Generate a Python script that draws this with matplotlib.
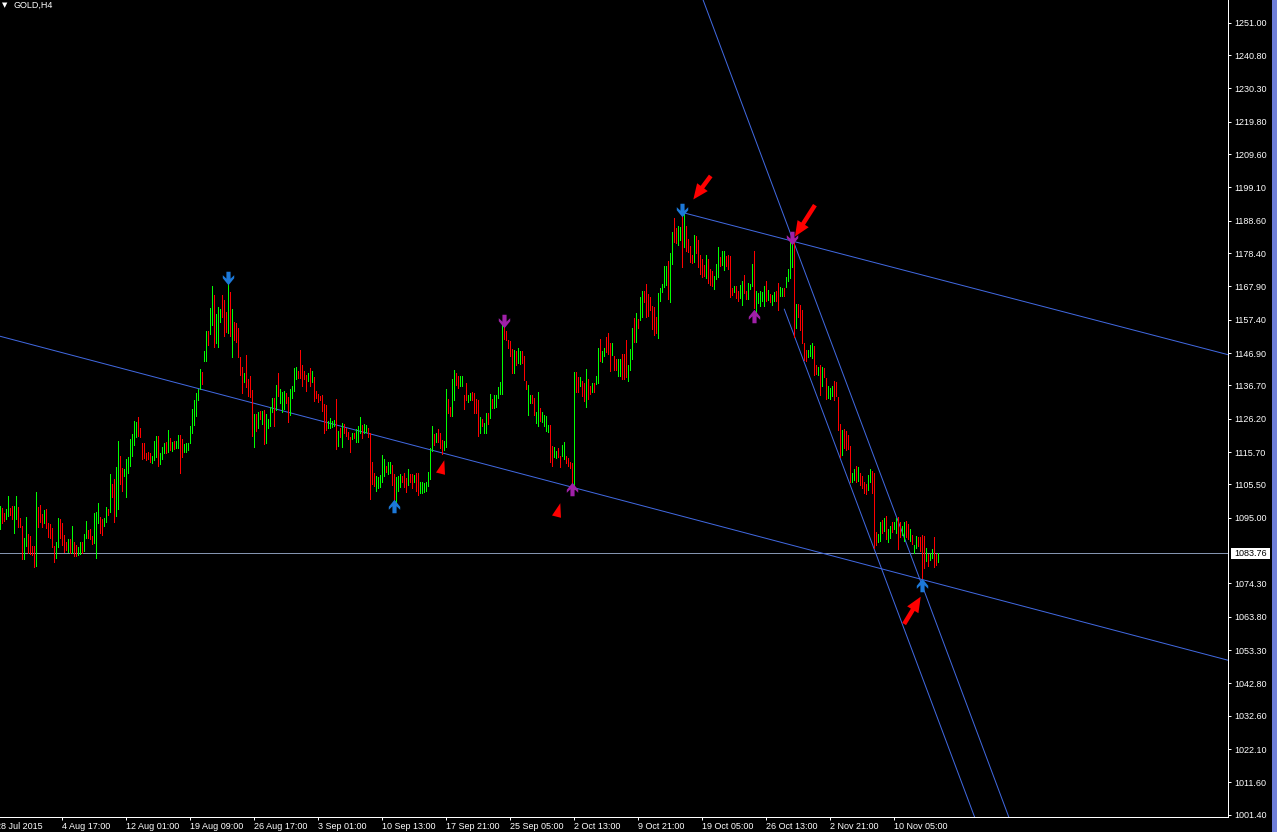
import numpy as np
import matplotlib
matplotlib.use("Agg")
import matplotlib.pyplot as plt
from matplotlib.path import Path
from matplotlib.patches import FancyArrowPatch, Rectangle, ArrowStyle
import matplotlib.transforms as mtransforms

plt.rcParams['font.family'] = ['Liberation Sans', 'DejaVu Sans']

# ---------------- data ----------------
symbol_title = "GOLD,H4"

highs = [
    1098.7, 1098.0, 1096.4, 1097.7, 1101.9, 1098.0, 1098.7, 1098.7, 1101.9, 1098.3,
    1095.0, 1092.5, 1088.7, 1095.1, 1089.9, 1089.2, 1086.1, 1086.1, 1103.0, 1098.5,
    1099.0, 1096.2, 1097.4, 1097.7, 1093.2, 1093.0, 1091.7, 1086.1, 1087.2, 1095.0,
    1094.5, 1093.2, 1089.6, 1087.5, 1088.2, 1088.2, 1092.4, 1087.2, 1086.4, 1085.7,
    1087.2, 1087.2, 1089.9, 1094.1, 1091.2, 1091.4, 1089.3, 1096.6, 1096.9, 1099.5,
    1095.1, 1094.5, 1094.8, 1098.3, 1097.7, 1108.8, 1105.6, 1107.2, 1110.9, 1119.3,
    1114.5, 1110.6, 1110.3, 1113.4, 1114.0, 1119.7, 1121.4, 1125.6, 1125.3, 1126.6,
    1123.2, 1118.7, 1118.4, 1115.5, 1115.8, 1115.5, 1114.5, 1119.3, 1120.8, 1120.8,
    1115.5, 1117.2, 1118.4, 1119.0, 1122.6, 1120.0, 1119.0, 1119.3, 1119.3, 1121.1,
    1121.1, 1119.7, 1118.2, 1118.4, 1118.4, 1123.9, 1129.2, 1132.1, 1134.4, 1135.5,
    1141.8, 1141.0, 1147.6, 1153.9, 1153.9, 1161.0, 1168.0, 1165.2, 1159.2, 1161.3,
    1160.7, 1165.2, 1163.6, 1159.9, 1169.9, 1166.2, 1160.7, 1156.8, 1156.5, 1154.7,
    1145.5, 1142.6, 1140.7, 1146.3, 1138.6, 1139.7, 1135.2, 1127.7, 1127.7, 1128.4,
    1128.7, 1128.7, 1128.9, 1127.7, 1126.0, 1129.8, 1132.6, 1132.8, 1136.8, 1140.7,
    1135.5, 1134.7, 1135.0, 1134.4, 1132.9, 1135.5, 1136.5, 1142.1, 1142.4, 1141.3,
    1147.9, 1143.1, 1141.2, 1140.0, 1140.5, 1142.1, 1141.3, 1139.4, 1135.0, 1134.0,
    1133.4, 1133.7, 1130.8, 1130.5, 1125.6,
    1126.3, 1125.6, 1125.8, 1132.3, 1122.4, 1123.2, 1124.8, 1124.5, 1123.2, 1122.1,
    1120.5, 1121.8, 1121.8, 1122.9, 1123.9, 1126.6, 1124.2, 1124.5, 1124.2, 1123.2,
    1121.8, 1112.4, 1109.0, 1108.2, 1107.9, 1108.5, 1114.8, 1113.4, 1111.3, 1112.4,
    1112.7, 1111.6, 1108.8, 1107.7, 1108.2, 1108.8, 1108.2, 1109.0, 1107.4, 1110.3,
    1108.8, 1108.8, 1108.5, 1109.0, 1109.0, 1106.1, 1106.4, 1105.9, 1106.1, 1109.5,
    1116.9, 1123.9, 1121.4, 1121.8, 1122.9, 1121.8, 1119.5, 1119.3, 1135.5, 1132.3,
    1130.0, 1138.6, 1141.5, 1140.7, 1139.7, 1139.7, 1139.5, 1133.7, 1137.6, 1133.7,
    1134.4, 1134.7, 1134.4, 1132.3, 1132.1, 1126.6, 1126.0, 1125.0, 1128.1, 1127.9,
    1134.0, 1132.3, 1133.7, 1133.7, 1136.1, 1137.9, 1156.5, 1155.0, 1153.9, 1151.0,
    1150.8, 1148.1, 1147.9, 1147.6, 1148.4, 1147.6, 1147.6, 1146.0, 1138.2, 1136.8,
    1133.7, 1133.7, 1132.6, 1128.4, 1134.7, 1129.5, 1128.4, 1127.4, 1127.1, 1124.2,
    1124.2, 1117.6, 1117.4, 1116.1, 1116.9, 1114.3, 1117.9, 1119.0, 1114.5, 1113.7,
    1112.4, 1112.2, 1141.0, 1141.0, 1139.2, 1139.2, 1138.2, 1137.4, 1141.8, 1138.6,
    1136.5, 1137.4, 1137.4, 1139.5, 1148.4, 1151.2, 1147.6, 1148.4, 1151.8, 1153.3,
    1150.2, 1150.2, 1146.0, 1144.9, 1144.9, 1144.9, 1146.6, 1146.6, 1151.0, 1143.1,
    1148.1, 1154.7, 1157.8, 1159.4, 1157.5,
    1164.7, 1166.3, 1166.5, 1168.7, 1165.5, 1164.5, 1161.8, 1161.3, 1158.4, 1165.7,
    1167.3, 1168.7, 1174.4, 1174.2, 1176.0, 1178.4, 1184.9, 1189.4, 1186.2, 1187.0,
    1186.5, 1191.5, 1190.9, 1187.0, 1182.8, 1180.7, 1177.8, 1184.1, 1183.8, 1182.5,
    1177.8, 1176.5, 1174.7, 1177.8, 1176.5, 1173.3, 1172.9, 1171.2, 1175.0, 1180.2,
    1177.1, 1178.9, 1178.9, 1177.5, 1177.8, 1177.5, 1167.3, 1168.1, 1167.9, 1166.6,
    1168.4, 1169.7, 1171.5, 1166.6, 1168.9, 1168.7, 1175.0, 1179.2, 1166.3, 1165.7,
    1166.6, 1166.0, 1168.1, 1169.7, 1166.8, 1165.5, 1165.2, 1166.0, 1166.6, 1168.9,
    1167.6, 1167.3, 1167.3, 1170.8, 1173.3, 1182.5, 1182.0, 1183.1, 1162.4, 1162.4,
    1162.1, 1160.5, 1150.0, 1147.9, 1147.9, 1149.5, 1150.0, 1149.2, 1143.2, 1142.4,
    1143.2, 1142.4, 1142.1, 1138.9, 1136.6, 1135.8, 1136.4, 1138.2, 1137.9,
    1132.9, 1124.5, 1122.7, 1122.9, 1122.4, 1121.1, 1117.6, 1109.0, 1110.3, 1111.3,
    1111.1, 1109.0, 1108.2, 1106.4, 1105.6, 1108.5, 1110.3, 1109.8, 1109.2, 1090.6,
    1089.9, 1093.5, 1094.3, 1094.8, 1095.4, 1091.4, 1092.4, 1093.8, 1093.5, 1094.8,
    1095.1, 1093.8, 1092.4, 1093.5, 1094.1, 1093.0, 1091.4, 1089.6, 1086.4, 1089.1,
    1088.8, 1088.8, 1089.6, 1089.3, 1085.4, 1083.6, 1084.0, 1085.1, 1088.8, 1083.6,
    1083.8,
]

lows = [
    1091.4, 1093.2, 1094.1, 1094.5, 1095.6, 1095.9, 1094.5, 1090.1, 1094.5, 1092.0,
    1092.0, 1082.0, 1082.0, 1086.1, 1083.8, 1083.6, 1083.3, 1079.6, 1079.9, 1092.2,
    1093.8, 1092.2, 1093.2, 1091.7, 1089.0, 1088.5, 1085.7, 1080.9, 1082.4, 1085.9,
    1088.5, 1086.4, 1084.3, 1084.9, 1084.3, 1084.0, 1084.0, 1082.8, 1083.0, 1083.3,
    1083.6, 1083.8, 1084.6, 1088.5, 1088.5, 1088.2, 1086.7, 1086.9, 1082.4, 1093.2,
    1090.3, 1089.6, 1092.4, 1093.8, 1095.9, 1096.9, 1101.4, 1093.5, 1095.4, 1097.7,
    1105.6, 1103.5, 1108.2, 1101.4, 1109.0, 1111.3, 1114.5, 1117.9, 1120.5, 1120.8,
    1120.3, 1113.4, 1113.7, 1113.2, 1113.4, 1112.4, 1112.2, 1113.2, 1114.0, 1111.3,
    1111.9, 1113.4, 1115.3, 1115.5, 1115.8, 1116.4, 1116.1, 1116.6, 1116.9, 1116.9,
    1109.2, 1114.0, 1115.8, 1115.8, 1116.4, 1118.7, 1121.8, 1124.2, 1127.1, 1132.1,
    1135.5, 1137.1, 1144.5, 1144.5, 1149.4, 1152.9, 1155.7, 1148.7, 1150.2, 1148.7,
    1156.8, 1158.1, 1152.3, 1153.6, 1153.3, 1152.3, 1145.5, 1151.0, 1150.5, 1145.5,
    1140.0, 1134.4, 1137.9, 1136.1, 1133.2, 1132.9, 1120.6, 1117.4, 1122.4, 1123.2,
    1126.0, 1124.5, 1118.2, 1118.4, 1123.2, 1123.9, 1128.4, 1123.9, 1128.9, 1133.2,
    1131.0, 1128.4, 1129.2, 1131.0, 1125.3, 1127.4, 1132.6, 1135.0, 1138.6, 1138.9,
    1138.9, 1136.5, 1138.6, 1135.0, 1138.2, 1136.5, 1137.9, 1131.9, 1132.6, 1131.6,
    1132.1, 1128.7, 1121.6, 1122.6, 1123.2,
    1123.2, 1123.5, 1123.9, 1116.6, 1117.6, 1120.3, 1117.4, 1121.8, 1120.8, 1119.7,
    1115.8, 1119.7, 1120.0, 1119.0, 1119.0, 1121.6, 1120.0, 1121.6, 1122.1, 1120.3,
    1100.8, 1105.6, 1105.0, 1103.5, 1104.3, 1104.6, 1106.1, 1108.2, 1109.5, 1108.8,
    1109.0, 1105.3, 1099.0, 1099.5, 1103.5, 1104.6, 1106.1, 1104.6, 1103.2, 1105.3,
    1106.1, 1104.3, 1106.1, 1103.5, 1102.2, 1102.7, 1102.9, 1103.2, 1103.5, 1105.0,
    1107.1, 1116.1, 1117.9, 1119.0, 1119.0, 1116.9, 1115.1, 1116.4, 1117.4, 1128.1,
    1127.1, 1127.1, 1132.1, 1136.8, 1135.8, 1136.5, 1136.5, 1129.2, 1132.1, 1131.6,
    1132.1, 1132.1, 1128.1, 1128.1, 1120.8, 1121.6, 1123.9, 1121.6, 1121.6, 1124.5,
    1126.3, 1129.5, 1129.5, 1129.8, 1132.6, 1134.0, 1134.0, 1151.2, 1151.0, 1148.4,
    1146.0, 1140.7, 1140.5, 1143.1, 1143.9, 1143.4, 1143.7, 1138.4, 1135.5, 1127.4,
    1131.0, 1131.0, 1127.4, 1125.0, 1123.9, 1125.6, 1125.3, 1123.9, 1122.4, 1122.1,
    1112.7, 1111.3, 1114.0, 1113.7, 1114.0, 1110.9, 1114.3, 1113.4, 1112.2, 1111.3,
    1110.6, 1104.3, 1104.0, 1134.7, 1134.7, 1136.5, 1133.4, 1131.9, 1129.8, 1132.3,
    1134.0, 1134.7, 1134.7, 1137.1, 1137.6, 1144.5, 1144.2, 1146.0, 1147.3, 1146.6,
    1141.3, 1146.3, 1141.6, 1141.6, 1139.7, 1139.7, 1138.6, 1138.6, 1139.2, 1138.2,
    1141.6, 1144.9, 1150.5, 1150.5, 1154.7,
    1157.3, 1158.4, 1163.1, 1158.4, 1158.6, 1160.5, 1154.4, 1152.6, 1153.1, 1151.6,
    1163.4, 1166.0, 1167.6, 1168.4, 1163.9, 1163.1, 1175.0, 1182.0, 1181.5, 1181.0,
    1182.5, 1173.9, 1180.4, 1178.9, 1178.6, 1175.7, 1175.2, 1175.7, 1178.3, 1173.9,
    1171.8, 1170.8, 1171.2, 1170.5, 1168.9, 1168.4, 1167.9, 1167.0, 1170.2, 1170.8,
    1174.2, 1174.7, 1173.1, 1174.2, 1173.3, 1164.7, 1165.2, 1166.0, 1164.2, 1163.4,
    1164.2, 1162.1, 1165.7, 1163.9, 1163.9, 1167.0, 1168.1, 1161.0, 1159.2, 1162.8,
    1161.8, 1163.4, 1161.8, 1163.4, 1163.7, 1163.1, 1162.1, 1163.4, 1163.4, 1160.5,
    1164.9, 1164.9, 1164.9, 1167.6, 1169.7, 1170.5, 1174.1, 1152.1, 1154.7, 1158.2,
    1154.2, 1150.2, 1144.7, 1144.5, 1145.8, 1146.0, 1145.3, 1140.0, 1140.3, 1140.0,
    1133.7, 1136.4, 1139.3, 1132.4, 1132.7, 1132.4, 1133.2, 1132.2, 1133.2,
    1122.7, 1114.2, 1114.8, 1116.9, 1116.4, 1116.6, 1106.1, 1106.4, 1106.9, 1106.1,
    1106.7, 1105.3, 1104.3, 1102.7, 1102.5, 1103.8, 1106.4, 1102.9, 1085.4, 1086.4,
    1087.2, 1087.8, 1090.1, 1090.9, 1088.2, 1087.2, 1088.5, 1090.6, 1091.4, 1090.1,
    1085.1, 1088.8, 1089.6, 1087.8, 1088.8, 1088.2, 1087.8, 1086.7, 1084.0, 1085.4,
    1086.1, 1084.6, 1074.4, 1079.1, 1081.2, 1079.8, 1081.7, 1082.2, 1079.4, 1080.2,
    1080.9,
]

# G = bullish (close > open), R = bearish
bar_dirs = (
    "GRRGGRRGGR" "RRGGRRRRGR" "RRGRRRRRGG" "RRRRGRGRRG" "GRGGRRRGGG"
    "RRGGRGRRGG" "RRGGGGGGGR" "RRRRRRGGGR" "GGGRGRGRGG" "RRGGGGGGGG"
    "GRGGRGGRGG" "GRRRGRGRRR" "RRGRRRRGRG" "RGRGGGGRGR" "GGGRRGGGGR"
    "RRRRGRGRRR" "RRRRG"
    "GGGRGRGRRR" "RGRGGGRGGR" "RRRGGGGGRG" "GRRGGGRRRG" "RRGRRGGGGG"
    "GGRGRRRGGR" "RGGRRGGRRG" "GRRRRGRGGR" "GRGGGGGRRR" "RRGRGGRRRG"
    "GRRGGRGGGG" "RRGGRRGGRR" "RRGRRGRRGR" "RGRGGRGGRR" "RGRRGGRRRG"
    "GGRGR"
    "GGRRRRRRRG" "GGGGRGGRRG" "GRGRRRRGRR" "RRRGRRRGGG" "RGGRRRRGRR"
    "GGRRGGGRGG" "GGGRGRGGRR" "GGRGGGGRGR" "RRRRGGGRRG" "RGRRGGGRR"
    "RRGRRRRGGR" "GRRRRGGRRR" "GGRGRGGRGG" "RRGGRRGRGG" "RRRRGRGGRR"
    "G"
)

last_price = 1083.76

price_ticks = [1251.00, 1240.80, 1230.30, 1219.80, 1209.60, 1199.10, 1188.60,
               1178.40, 1167.90, 1157.40, 1146.90, 1136.70, 1126.20, 1115.70,
               1105.50, 1095.00, 1074.30, 1063.80, 1053.30, 1042.80, 1032.60,
               1022.10, 1011.60, 1001.40]

date_tick_bars = [31, 63, 95, 127, 159, 191, 223, 255, 287, 319, 351, 383, 415, 447]
date_tick_labels = ["4 Aug 17:00", "12 Aug 01:00", "19 Aug 09:00", "26 Aug 17:00",
                    "3 Sep 01:00", "10 Sep 13:00", "17 Sep 21:00", "25 Sep 05:00",
                    "2 Oct 13:00", "9 Oct 21:00", "19 Oct 05:00", "26 Oct 13:00",
                    "2 Nov 21:00", "10 Nov 05:00"]
first_date_bar = -2
first_date_label = "28 Jul 2015"

# trend lines: two anchor points (bar index, price)
support_line = [(286, 1104.6), (461, 1075.5)]          # full line
channel_line = [(396, 1183.0), (461, 1073.5)]          # full line
resistance_ray = [(341, 1191.2), (397, 1182.0)]        # ray to the right
channel_ray = [(392, 1160.7), (437, 1085.0)]           # ray to the right

# arrow signals (bar index, price at symbol centre)
blue_down_bars, blue_down_prices = [114, 341], [1170.4, 1192.1]
purple_down_bars, purple_down_prices = [252, 396], [1157.0, 1183.3]
blue_up_bars, blue_up_prices = [197, 461], [1098.6, 1073.8]
purple_up_bars, purple_up_prices = [286, 377], [1103.9, 1158.6]
red_tri_bars, red_tri_prices = [220, 278], [1111.1, 1097.4]

# red pointer arrows: tail -> tip (bar index, price)
pointer_tails = [(355.2, 1202.7), (407.3, 1193.5), (451.9, 1061.5)]
pointer_tips = [(346.5, 1195.3), (397.3, 1183.6), (460.2, 1070.1)]

# ---------------- figure ----------------
W, H = 1277, 832
fig = plt.figure(figsize=(W / 100, H / 100), dpi=100, facecolor="black")
ax_w, ax_h = 1228, 817
ax = fig.add_axes([0, (H - ax_h) / H, ax_w / W, ax_h / H])
ax.set_facecolor("black")

n = len(highs)
assert len(lows) == n and len(bar_dirs) == n, (len(highs), len(lows), len(bar_dirs))
idx = np.arange(n)
hi = np.array(highs)
lo = np.array(lows)
cols = ["#00FF00" if c == "G" else "#FF0000" for c in bar_dirs]

ax.set_xlim(-0.165, 613.835)
ax.set_ylim(1000.68, 1258.15)

px = 0.72  # one pixel in points
ax.vlines(idx, lo, hi, colors=cols, linewidth=px, antialiased=False, zorder=3)

line_col = "#4169E1"
ax.axline(support_line[0], support_line[1], color=line_col, lw=px, zorder=2)
ax.axline(channel_line[0], channel_line[1], color=line_col, lw=px, zorder=2)
for (p0, p1) in (resistance_ray, channel_ray):
    slope = (p1[1] - p0[1]) / (p1[0] - p0[0])
    x_end = 700
    ax.plot([p0[0], x_end], [p0[1], p0[1] + slope * (x_end - p0[0])],
            color=line_col, lw=px, zorder=2)

ax.axhline(last_price, color="#8494B0", lw=px, zorder=1)

# arrow markers
down_verts = [(-2.0, 6.5), (2.0, 6.5), (2.0, -0.2), (5.5, 3.2), (5.5, 0.3),
              (0.0, -6.5), (-5.5, 0.3), (-5.5, 3.2), (-2.0, -0.2), (-2.0, 6.5)]
down_path = Path(down_verts, closed=True)
up_path = Path([(x, -y) for x, y in down_verts], closed=True)
tri_path = Path([(3.8, 7.3), (-4.5, -5.0), (4.5, -7.3), (3.8, 7.3)], closed=True)
msz = 13.5 / 1.389
ax.plot(blue_down_bars, blue_down_prices, ls="none", marker=down_path, ms=msz,
        mfc="#1C78D8", mec="#1C78D8", mew=0, zorder=5)
ax.plot(purple_down_bars, purple_down_prices, ls="none", marker=down_path, ms=msz,
        mfc="#A020A8", mec="#A020A8", mew=0, zorder=5)
ax.plot(blue_up_bars, blue_up_prices, ls="none", marker=up_path, ms=msz,
        mfc="#1C78D8", mec="#1C78D8", mew=0, zorder=5)
ax.plot(purple_up_bars, purple_up_prices, ls="none", marker=up_path, ms=msz,
        mfc="#A020A8", mec="#A020A8", mew=0, zorder=5)
ax.plot(red_tri_bars, red_tri_prices, ls="none", marker=tri_path, ms=14.6 / 1.389,
        mfc="#FF0000", mec="#FF0000", mew=0, zorder=5)

for tail, tip in zip(pointer_tails, pointer_tips):
    arr = FancyArrowPatch(tail, tip,
                          arrowstyle=ArrowStyle.Simple(head_length=11, head_width=9.5,
                                                       tail_width=3.2),
                          mutation_scale=1, shrinkA=0, shrinkB=0,
                          color="#FF0000", lw=0, zorder=6)
    ax.add_patch(arr)

# axes styling
for s in ("left", "top"):
    ax.spines[s].set_visible(False)
for s in ("right", "bottom"):
    ax.spines[s].set_color("white")
    ax.spines[s].set_linewidth(px)

ax.yaxis.tick_right()
ax.set_yticks(price_ticks)
ax.set_yticklabels([f"{v:.2f}" for v in price_ticks])
ax.tick_params(axis="y", colors="white", length=2.2, width=px, pad=2.4,
               labelsize=6.5, direction="out")
ax.set_xticks(date_tick_bars)
ax.set_xticklabels(date_tick_labels, ha="left")
ax.tick_params(axis="x", colors="white", length=2.2, width=px, pad=1.2,
               labelsize=6.5, direction="out")
for lbl in ax.get_xticklabels():
    lbl.set_horizontalalignment("left")

ax.annotate(first_date_label, xy=(first_date_bar, 0),
            xycoords=("data", "axes fraction"), xytext=(0, -3.4),
            textcoords="offset points", ha="left", va="top", color="white",
            fontsize=6.5, annotation_clip=False)

# current price label box
blend = mtransforms.blended_transform_factory(ax.transAxes, ax.transData)
box_h = 10.3 * (1258.15 - 1000.68) / ax_h
ax.add_patch(Rectangle((1 + 2.7 / ax_w, last_price - box_h / 2), 39.3 / ax_w, box_h,
                       transform=blend, facecolor="white", edgecolor="none",
                       clip_on=False, zorder=10))
ax.text(1 + 6.0 / ax_w, last_price, f"{last_price:.2f}", transform=blend,
        ha="left", va="center", color="black", fontsize=6.5, clip_on=False, zorder=11)

# title
fig.text(13 / W, 1 - 5.5 / H, symbol_title, color="white", fontsize=6.5,
         ha="left", va="center")
fig.text(1.5 / W, 1 - 5.0 / H, "\u25BC", color="white", fontsize=5,
         family="DejaVu Sans", ha="left", va="center")

# window edge strip on the right
fig.patches.append(Rectangle((1272 / W, 0), 5 / W, 1, transform=fig.transFigure,
                             facecolor="#6E7ED8", edgecolor="none"))

fig.savefig("out.png", dpi=100, facecolor="black")
